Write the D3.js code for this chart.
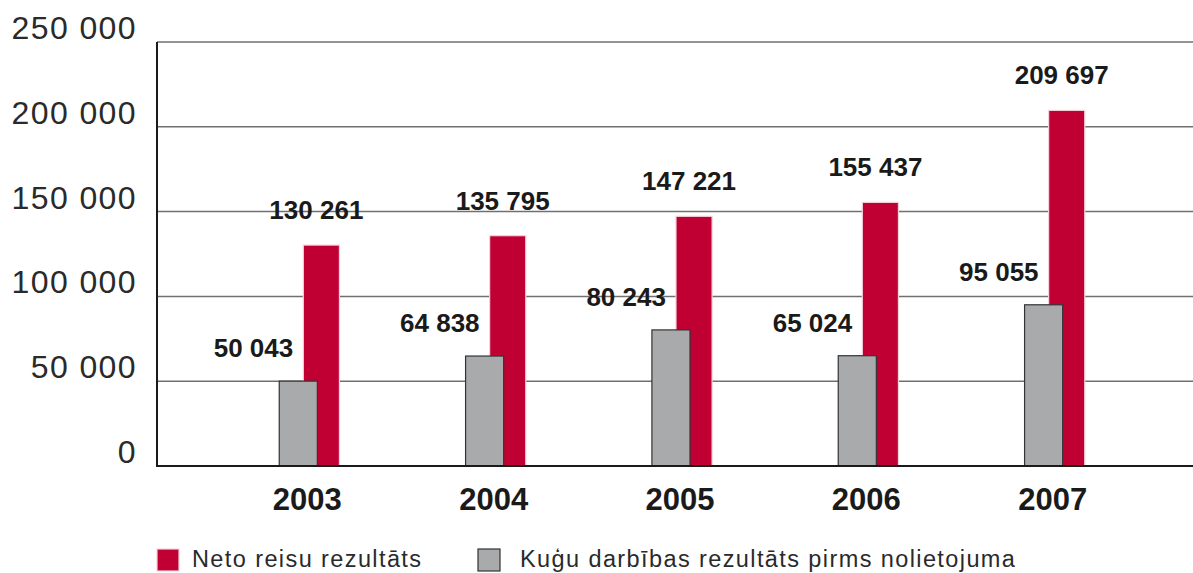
<!DOCTYPE html>
<html>
<head>
<meta charset="utf-8">
<script src="https://cdn.jsdelivr.net/npm/d3@7"></script>
<style>
  body { margin: 0; background: #fff; }
  svg { display: block; font-family: "Liberation Sans", Arial, sans-serif; }
</style>
</head>
<body>
<svg width="1193" height="573"></svg>
<script>
var years = ["2003", "2004", "2005", "2006", "2007"];
var neto = [130261, 135795, 147221, 155437, 209697];          // red
var kugu = [50043, 64838, 80243, 65024, 95055];               // gray
var yTicks = [0, 50000, 100000, 150000, 200000, 250000];
var legendLabels = ["Neto reisu rezultāts", "Kuģu darbības rezultāts pirms nolietojuma"];

var red = "#c00032",
    grey = "#a9aaac";

var svg = d3.select("svg"),
    width = 1193,
    left = 157;

var fmt = function(v) { return d3.format(",")(v).replace(/,/g, " "); };

var x = d3.scaleBand()
    .domain(years)
    .range([left, 1207])
    .paddingInner(0.677)
    .paddingOuter(0.656);

var y = d3.scaleLinear()
    .domain([0, 250000])
    .range([466, 42]);

var bw = x.bandwidth();

// gridlines
svg.append("g").selectAll("line")
    .data(yTicks.filter(function(d) { return d > 0; }))
  .enter().append("line")
    .attr("x1", left).attr("x2", width)
    .attr("y1", function(d) { return y(d); })
    .attr("y2", function(d) { return y(d); })
    .attr("stroke", "#707070")
    .attr("stroke-width", 1.5);

// tick labels
svg.append("g").selectAll("text")
    .data(yTicks)
  .enter().append("text")
    .attr("x", 137)
    .attr("y", function(d) { return y(d) - 3; })
    .attr("text-anchor", "end")
    .attr("font-size", 32)
    .attr("letter-spacing", 1.4)
    .attr("fill", "#2a2a2a")
    .text(fmt);

// red bars
svg.append("g").selectAll("rect")
    .data(neto)
  .enter().append("rect")
    .attr("x", function(d, i) { return x(years[i]) + bw * 0.4; })
    .attr("y", function(d) { return y(d); })
    .attr("width", bw * 0.6)
    .attr("height", function(d) { return y(0) - y(d); })
    .attr("fill", red)
    .attr("stroke", "#f6d3da")
    .attr("stroke-width", 1.2);

// grey bars
svg.append("g").selectAll("rect")
    .data(kugu)
  .enter().append("rect")
    .attr("x", function(d, i) { return x(years[i]); })
    .attr("y", function(d) { return y(d); })
    .attr("width", bw * 0.633)
    .attr("height", function(d) { return y(0) - y(d); })
    .attr("fill", grey)
    .attr("stroke", "#333")
    .attr("stroke-width", 1.2);

// axes
svg.append("line")
    .attr("x1", left).attr("x2", left)
    .attr("y1", y(250000)).attr("y2", y(0) + 1)
    .attr("stroke", "#1a1a1a").attr("stroke-width", 2);
svg.append("line")
    .attr("x1", left - 1).attr("x2", width)
    .attr("y1", y(0)).attr("y2", y(0))
    .attr("stroke", "#1a1a1a").attr("stroke-width", 2.2);

// value labels
svg.append("g").selectAll("text")
    .data(neto)
  .enter().append("text")
    .attr("x", function(d, i) { return x(years[i]) + bw * 0.7 - 5; })
    .attr("y", function(d) { return y(d) - 26; })
    .attr("text-anchor", "middle")
    .attr("font-size", 26)
    .attr("font-weight", "bold")
    .attr("fill", "#1a1a1a")
    .text(fmt);

svg.append("g").selectAll("text")
    .data(kugu)
  .enter().append("text")
    .attr("x", function(d, i) { return x(years[i]) + 14; })
    .attr("y", function(d) { return y(d) - 24; })
    .attr("text-anchor", "end")
    .attr("font-size", 26)
    .attr("font-weight", "bold")
    .attr("fill", "#1a1a1a")
    .text(fmt);

// year labels
svg.append("g").selectAll("text")
    .data(years)
  .enter().append("text")
    .attr("x", function(d) { return x(d) + bw / 2 - 2; })
    .attr("y", 510)
    .attr("text-anchor", "middle")
    .attr("font-size", 31)
    .attr("font-weight", "bold")
    .attr("fill", "#1a1a1a")
    .text(function(d) { return d; });

// legend
var legendX = [157, 478],
    legendFill = [red, grey],
    legendStroke = ["#f6d3da", "#333"];
var lg = svg.append("g").selectAll("g")
    .data(legendLabels)
  .enter().append("g")
    .attr("transform", function(d, i) { return "translate(" + legendX[i] + ",549)"; });
lg.append("rect")
    .attr("width", 22).attr("height", 22)
    .attr("fill", function(d, i) { return legendFill[i]; })
    .attr("stroke", function(d, i) { return legendStroke[i]; })
    .attr("stroke-width", 1.2);
lg.append("text")
    .attr("x", function(d, i) { return i === 0 ? 35 : 42; })
    .attr("y", 18)
    .attr("font-size", 23.5)
    .attr("letter-spacing", 1.4)
    .attr("fill", "#2a2a2a")
    .text(function(d) { return d; });
</script>
</body>
</html>
